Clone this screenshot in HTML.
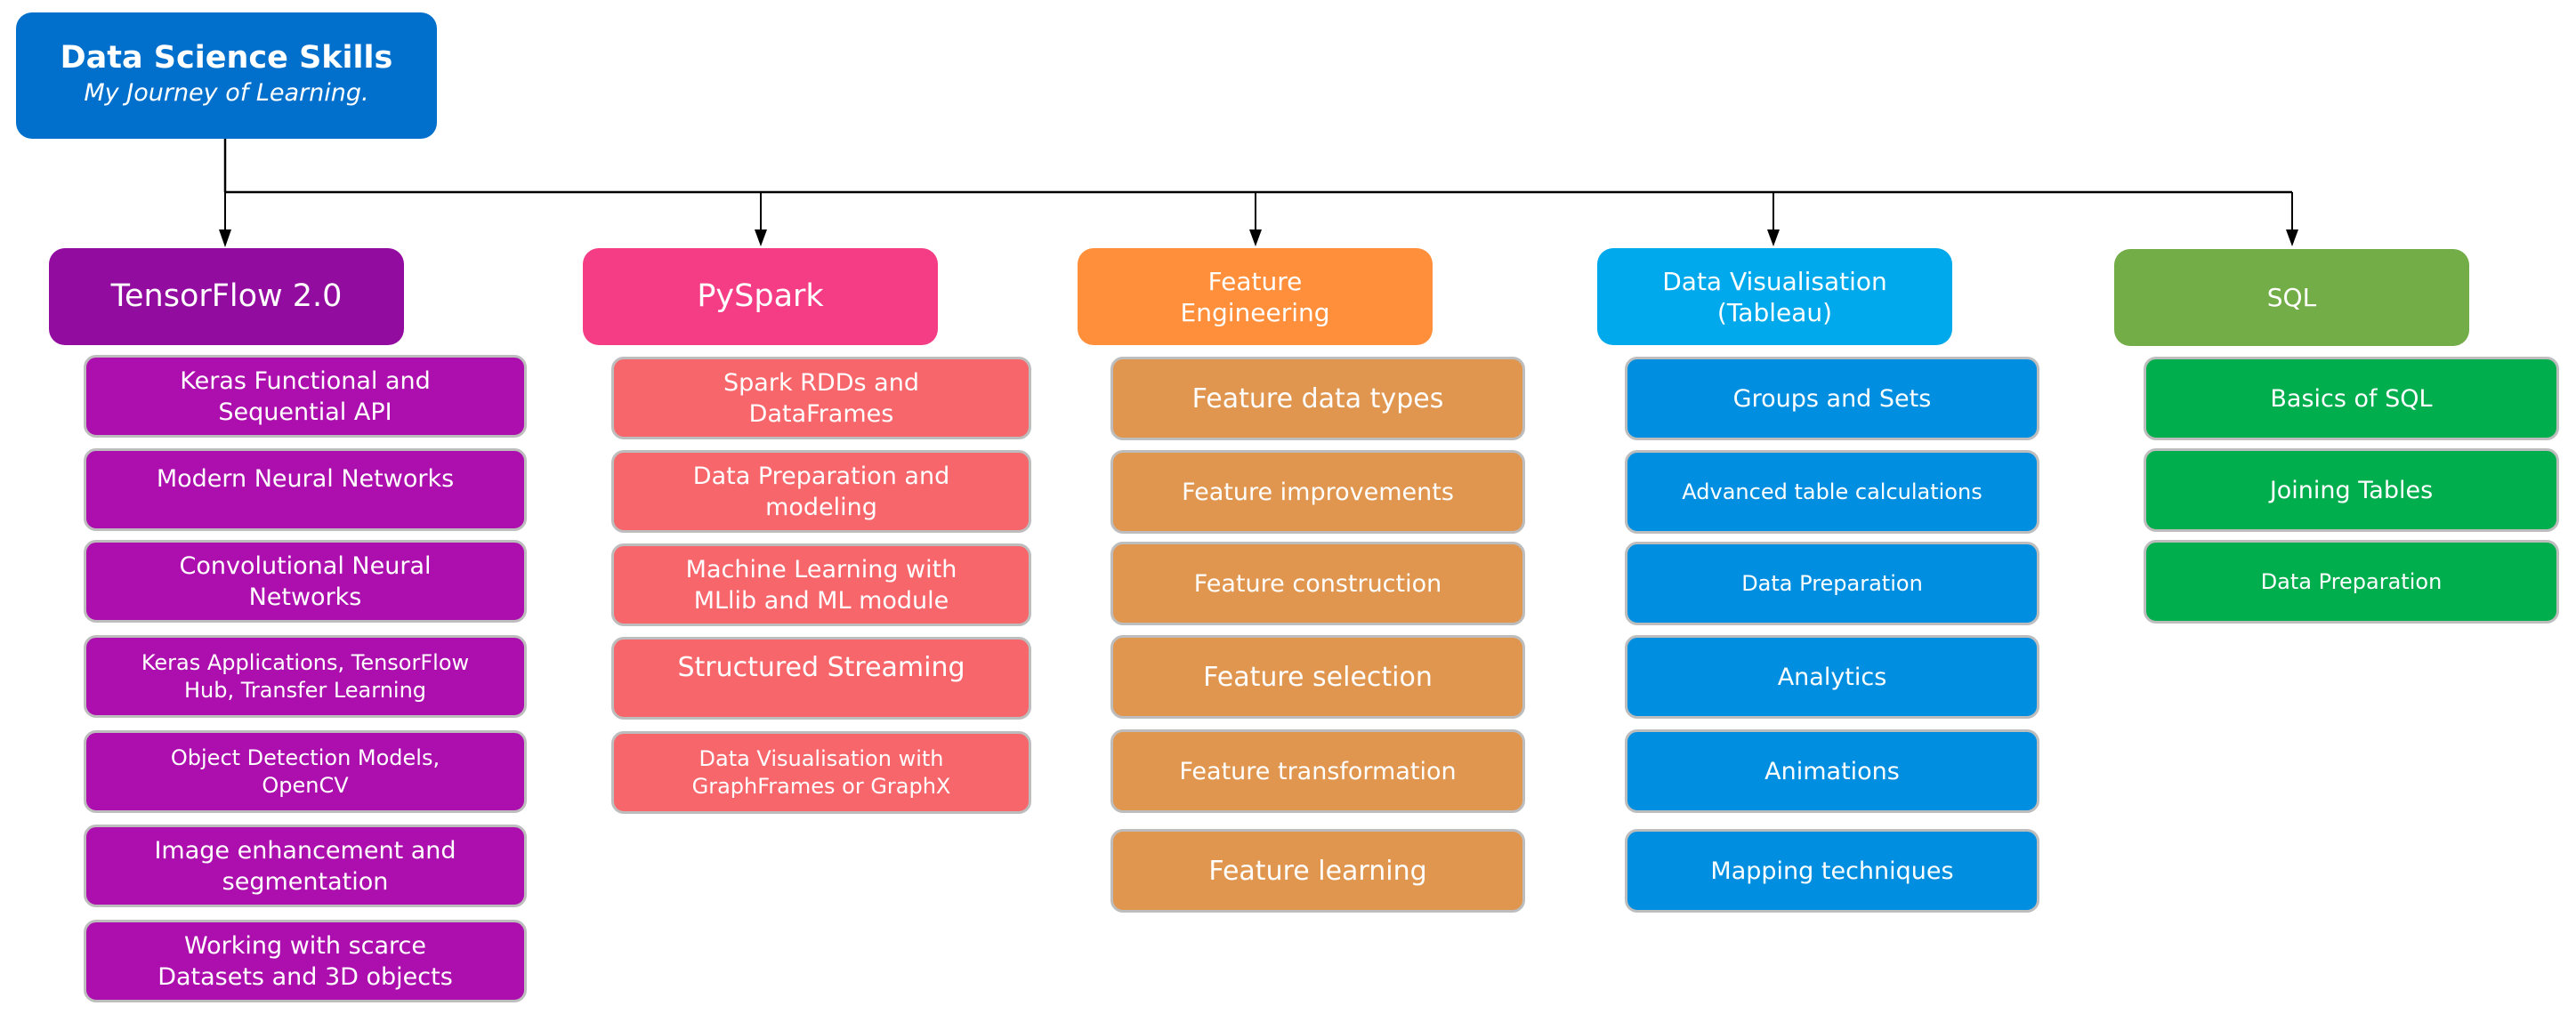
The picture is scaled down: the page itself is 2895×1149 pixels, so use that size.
<!DOCTYPE html>
<html><head><meta charset="utf-8"><style>
body{margin:0;width:2895px;height:1149px;background:#fff;position:relative;overflow:hidden;font-family:"DejaVu Sans","Liberation Sans",sans-serif;color:#fff}
.b{position:absolute;box-sizing:border-box;display:flex;align-items:center;justify-content:center;text-align:center;line-height:35px}
.h{border-radius:18px}
.c{border:3px solid #bdbdbd;border-radius:14px;font-size:27px}
.s{font-size:24px;line-height:31px}
.top{align-items:flex-start;padding-top:14px}
.tf{background:#ac0fad}.ps{background:#f7666b}.fe{background:#e0964f}.dv{background:#008fe0}.sq{background:#00ae4d}
</style></head><body>
<svg width="2895" height="1149" style="position:absolute;left:0;top:0">
<g stroke="#000" fill="none">
<line x1="253" y1="155" x2="253" y2="216" stroke-width="2.5"/>
<line x1="252" y1="216" x2="2576" y2="216" stroke-width="2.5"/>
<line x1="253" y1="216" x2="253" y2="262" stroke-width="2"/>
<line x1="855" y1="216" x2="855" y2="262" stroke-width="2"/>
<line x1="1411" y1="216" x2="1411" y2="262" stroke-width="2"/>
<line x1="1993" y1="216" x2="1993" y2="262" stroke-width="2"/>
<line x1="2576" y1="216" x2="2576" y2="262" stroke-width="2"/>
</g>
<g fill="#000">
<polygon points="246,258 260,258 253,278"/>
<polygon points="848,258 862,258 855,277"/>
<polygon points="1404,258 1418,258 1411,277"/>
<polygon points="1986,258 2000,258 1993,277"/>
<polygon points="2569,258 2583,258 2576,277"/>
</g>
</svg>
<div class="b h" style="left:18px;top:14px;width:473px;height:142px;background:#0070cc;flex-direction:column;line-height:40px">
<div style="font-weight:bold;font-size:35px">Data Science Skills</div>
<div style="font-style:italic;font-size:27px">My Journey of Learning.</div></div>

<div class="b h" style="left:55px;top:279px;width:399px;height:109px;background:#930ca0;font-size:35px">TensorFlow 2.0</div>
<div class="b h" style="left:655px;top:279px;width:399px;height:109px;background:#f43d85;font-size:35px">PySpark</div>
<div class="b h" style="left:1211px;top:279px;width:399px;height:109px;background:#ff8f3a;font-size:28px">Feature<br>Engineering</div>
<div class="b h" style="left:1795px;top:279px;width:399px;height:109px;background:#00a9ec;font-size:28px">Data Visualisation<br>(Tableau)</div>
<div class="b h" style="left:2376px;top:280px;width:399px;height:109px;background:#72ad47;font-size:28px">SQL</div>

<div class="b c tf" style="left:94px;top:399px;width:498px;height:93px">Keras Functional and<br>Sequential API</div>
<div class="b c tf top" style="left:94px;top:504px;width:498px;height:93px">Modern Neural Networks</div>
<div class="b c tf" style="left:94px;top:607px;width:498px;height:93px">Convolutional Neural<br>Networks</div>
<div class="b c tf s" style="left:94px;top:714px;width:498px;height:93px">Keras Applications, TensorFlow<br>Hub, Transfer Learning</div>
<div class="b c tf s" style="left:94px;top:821px;width:498px;height:93px">Object Detection Models,<br>OpenCV</div>
<div class="b c tf" style="left:94px;top:927px;width:498px;height:93px">Image enhancement and<br>segmentation</div>
<div class="b c tf" style="left:94px;top:1034px;width:498px;height:93px">Working with scarce<br>Datasets and 3D objects</div>

<div class="b c ps" style="left:687px;top:401px;width:472px;height:93px">Spark RDDs and<br>DataFrames</div>
<div class="b c ps" style="left:687px;top:506px;width:472px;height:93px">Data Preparation and<br>modeling</div>
<div class="b c ps" style="left:687px;top:611px;width:472px;height:93px">Machine Learning with<br>MLlib and ML module</div>
<div class="b c ps top" style="left:687px;top:716px;width:472px;height:93px;font-size:30px">Structured Streaming</div>
<div class="b c ps s" style="left:687px;top:822px;width:472px;height:93px">Data Visualisation with<br>GraphFrames or GraphX</div>

<div class="b c fe" style="left:1248px;top:401px;width:466px;height:94px;font-size:30px">Feature data types</div>
<div class="b c fe" style="left:1248px;top:506px;width:466px;height:94px">Feature improvements</div>
<div class="b c fe" style="left:1248px;top:609px;width:466px;height:94px">Feature construction</div>
<div class="b c fe" style="left:1248px;top:714px;width:466px;height:94px;font-size:30px">Feature selection</div>
<div class="b c fe" style="left:1248px;top:820px;width:466px;height:94px">Feature transformation</div>
<div class="b c fe" style="left:1248px;top:932px;width:466px;height:94px;font-size:30px">Feature learning</div>

<div class="b c dv" style="left:1826px;top:401px;width:466px;height:94px">Groups and Sets</div>
<div class="b c dv s" style="left:1826px;top:506px;width:466px;height:94px">Advanced table calculations</div>
<div class="b c dv s" style="left:1826px;top:609px;width:466px;height:94px">Data Preparation</div>
<div class="b c dv" style="left:1826px;top:714px;width:466px;height:94px">Analytics</div>
<div class="b c dv" style="left:1826px;top:820px;width:466px;height:94px">Animations</div>
<div class="b c dv" style="left:1826px;top:932px;width:466px;height:94px">Mapping techniques</div>

<div class="b c sq" style="left:2409px;top:401px;width:467px;height:94px">Basics of SQL</div>
<div class="b c sq" style="left:2409px;top:504px;width:467px;height:94px">Joining Tables</div>
<div class="b c sq s" style="left:2409px;top:607px;width:467px;height:94px">Data Preparation</div>
</body></html>
